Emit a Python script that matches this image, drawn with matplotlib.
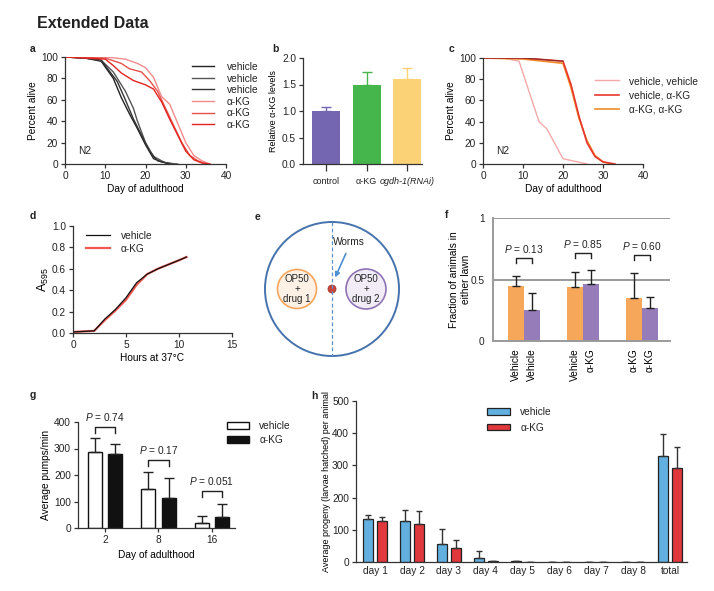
'''
Extended Data figure: lifespan, alpha-KG levels, bacterial growth,
food choice, pumping and brood size panels
'''

import numpy as np
import matplotlib
matplotlib.use('Agg')
import matplotlib.pyplot as plt
from matplotlib.patches import Patch, Circle

plt.rcParams['font.family'] = ['Liberation Sans', 'DejaVu Sans']
plt.rcParams['font.size'] = 7.3
plt.rcParams['mathtext.fontset'] = 'custom'
plt.rcParams['mathtext.rm'] = 'Liberation Sans'
plt.rcParams['mathtext.it'] = 'Liberation Sans:italic'
plt.rcParams['axes.linewidth'] = 0.9
plt.rcParams['xtick.major.width'] = 0.9
plt.rcParams['ytick.major.width'] = 0.9
plt.rcParams['xtick.major.size'] = 3
plt.rcParams['ytick.major.size'] = 3
plt.rcParams['text.color'] = '#222222'

###########################################
# data

# a: N2 lifespan, three vehicle and three alpha-KG trials
a_veh1_day = [0, 5, 9, 12, 14, 16, 18, 20, 22, 24, 27]
a_veh1_pct = [100, 99, 96, 80, 62, 47, 33, 18, 5, 2, 0]
a_veh2_day = [0, 5, 9, 12, 15, 17, 18, 20, 22, 25, 28]
a_veh2_pct = [100, 99, 97, 86, 68, 52, 40, 20, 7, 1, 0]
a_veh3_day = [0, 5, 9, 13, 15, 17, 19, 21, 23, 26]
a_veh3_pct = [100, 99, 97, 77, 60, 42, 27, 12, 3, 0]
a_akg1_day = [0, 10, 15, 18, 20, 22, 24, 26, 28, 30, 32, 34, 36]
a_akg1_pct = [100, 100, 98, 94, 90, 81, 63, 56, 38, 20, 8, 3, 0]
a_akg2_day = [0, 10, 14, 16, 19, 21, 23, 25, 27, 29, 31, 33, 35]
a_akg2_pct = [100, 99, 94, 89, 86, 78, 68, 52, 36, 20, 8, 3, 0]
a_akg3_day = [0, 10, 12, 14, 17, 20, 22, 24, 26, 28, 30, 32, 34, 36]
a_akg3_pct = [100, 98, 92, 85, 78, 74, 70, 58, 42, 27, 12, 4, 1, 0]

# b: relative alpha-KG levels
b_groups = ['control', 'α-KG', 'ogdh-1(RNAi)']
b_mean = [1.0, 1.5, 1.6]
b_err = [0.07, 0.23, 0.22]

# c: lifespan, pre-treatment / treatment
c_vv_day = [0, 5, 9, 14, 16, 20, 26]
c_vv_pct = [100, 100, 97, 40, 33, 5, 0]
c_va_day = [0, 10, 20, 22, 24, 26, 28, 30, 33]
c_va_pct = [100, 100, 97, 75, 45, 20, 7, 2, 0]
c_aa_day = [0, 10, 20, 22, 24, 26, 28, 30, 32]
c_aa_pct = [100, 99, 95, 72, 43, 22, 8, 2, 0]

# d: OP50 growth
d_hours = [0, 2, 3, 4, 5, 6, 7, 8, 9, 10, 10.7]
d_veh = [0.01, 0.02, 0.13, 0.22, 0.33, 0.47, 0.55, 0.60, 0.64, 0.68, 0.71]
d_akg = [0.01, 0.02, 0.12, 0.21, 0.31, 0.45, 0.55, 0.60, 0.64, 0.68, 0.71]

# f: food choice (drug 1 lawn vs drug 2 lawn)
f_drug1_labels = ['Vehicle', 'Vehicle', 'α-KG']
f_drug2_labels = ['Vehicle', 'α-KG', 'α-KG']
f_drug1 = [0.45, 0.44, 0.35]
f_drug1_err = [0.08, 0.12, 0.20]
f_drug2 = [0.25, 0.46, 0.27]
f_drug2_err = [0.14, 0.12, 0.09]
f_pvals = ['0.13', '0.85', '0.60']

# g: pumping
g_days = ['2', '8', '16']
g_veh = [285, 148, 17]
g_veh_err = [53, 64, 27]
g_akg = [278, 115, 43]
g_akg_err = [40, 72, 48]
g_pvals = ['0.74', '0.17', '0.051']

# h: brood size
h_days = ['day 1', 'day 2', 'day 3', 'day 4', 'day 5', 'day 6', 'day 7', 'day 8', 'total']
h_veh = [135, 127, 55, 13, 2, 0, 0, 0, 328]
h_veh_err = [12, 34, 47, 21, 2, 0, 0, 0, 70]
h_akg = [127, 119, 45, 3, 0.5, 0.5, 0, 0, 292]
h_akg_err = [14, 40, 23, 1, 0.5, 0.5, 0, 0, 64]

###########################################
# layout helpers (pixel boxes)

W, H = 714, 591
fig = plt.figure(figsize=(W/100, H/100), dpi=100)


def pxAxes(l, t, r, b):
  '''axes from a pixel box'''
  return fig.add_axes([l/W, 1-b/H, (r-l)/W, (b-t)/H])


def prism(ax):
  '''open axes style'''
  ax.spines['top'].set_visible(False)
  ax.spines['right'].set_visible(False)
  for s in ['left', 'bottom']:
    ax.spines[s].set_color('#333333')
  ax.tick_params(direction='out', colors='#333333', labelcolor='#222222', pad=2)


def figText(x, y, s, **kw):
  fig.text(x/W, 1-y/H, s, **kw)


def figLegend(ax, handles, labels, x, y, **kw):
  leg = ax.legend(handles, labels, loc='upper left', bbox_to_anchor=(x/W, 1-y/H),
                  bbox_transform=fig.transFigure, frameon=False, borderpad=0,
                  borderaxespad=0, **kw)
  return leg


def bracket(ax, x0, x1, y, drop, label, dy):
  ax.plot([x0, x0, x1, x1], [y-drop, y, y, y-drop], color='#222222', lw=1)
  ax.text((x0+x1)/2, y+dy, '$P$ = '+label, ha='center', va='center')


figText(37, 24, 'Extended Data', fontsize=11.5, fontweight='bold', va='center')
for lab, x, y in [('a', 30, 49), ('b', 272, 49), ('c', 449, 49), ('d', 30, 216),
                  ('e', 255, 217), ('f', 445, 215), ('g', 30, 395), ('h', 311, 396)]:
  figText(x, y, lab, fontsize=7.5, fontweight='bold', va='center')

###########################################
# a

ax = pxAxes(65, 57, 226, 164)
prism(ax)
aBlack = ['#222222', '#555555', '#333333']
aRed = ['#f28c8c', '#e8504a', '#e3241f']
lines = []
for d, p, c in zip([a_veh1_day, a_veh2_day, a_veh3_day], [a_veh1_pct, a_veh2_pct, a_veh3_pct], aBlack):
  lines += ax.plot(d, p, color=c, lw=1)
for d, p, c in zip([a_akg1_day, a_akg2_day, a_akg3_day], [a_akg1_pct, a_akg2_pct, a_akg3_pct], aRed):
  lines += ax.plot(d, p, color=c, lw=1)
ax.set_xlim(0, 40)
ax.set_ylim(0, 100)
ax.set_xticks([0, 10, 20, 30, 40])
ax.set_yticks([0, 20, 40, 60, 80, 100])
ax.set_xlabel('Day of adulthood', labelpad=2)
ax.set_ylabel('Percent alive', labelpad=2)
ax.text(3.3, 12, 'N2', va='center')
figLegend(ax, lines, ['vehicle']*3+['α-KG']*3, 192, 62,
          handlelength=2.2, handletextpad=1.2, labelspacing=0.15)

###########################################
# b

ax = pxAxes(303, 58, 422, 164)
prism(ax)
bCols = ['#7566b1', '#45b64b', '#fbd276']
xb = np.arange(len(b_groups))
ax.bar(xb, b_mean, width=0.69, color=bCols)
for i in range(len(xb)):
  ax.errorbar(xb[i], b_mean[i], yerr=[[0], [b_err[i]]], color=bCols[i], capsize=3.5, lw=1, capthick=1)
ax.set_xlim(-0.57, 2.37)
ax.set_ylim(0, 2.0)
ax.set_yticks([0, 0.5, 1.0, 1.5, 2.0])
ax.set_yticklabels(['0.0', '0.5', '1.0', '1.5', '2.0'])
ax.set_xticks(xb)
ax.set_xticklabels(b_groups, fontsize=6.5)
ax.get_xticklabels()[2].set_style('italic')
ax.tick_params(axis='x', length=5, pad=4)
ax.set_ylabel('Relative α-KG levels', labelpad=3, fontsize=6.5)

###########################################
# c

ax = pxAxes(483, 58, 643, 164)
prism(ax)
l1, = ax.plot(c_vv_day, c_vv_pct, color='#f4a9a9', lw=1)
l3, = ax.plot(c_aa_day, c_aa_pct, color='#f08c2a', lw=1.2)
l2, = ax.plot(c_va_day, c_va_pct, color='#e8382e', lw=1.2)
ax.plot(c_va_day[:3], c_va_pct[:3], color='#8a2a2a', lw=0.8)
ax.set_xlim(0, 40)
ax.set_ylim(0, 100)
ax.set_xticks([0, 10, 20, 30, 40])
ax.set_yticks([0, 20, 40, 60, 80, 100])
ax.set_xlabel('Day of adulthood', labelpad=2)
ax.set_ylabel('Percent alive', labelpad=2)
ax.text(3.3, 12, 'N2', va='center')
figLegend(ax, [l1, l2, l3], ['vehicle, vehicle', 'vehicle, α-KG', 'α-KG, α-KG'], 595, 76,
          handlelength=2.4, handletextpad=1.0, labelspacing=0.4)

###########################################
# d

ax = pxAxes(73, 226, 232, 333)
prism(ax)
lr, = ax.plot(d_hours, d_akg, color='#f0574f', lw=1.6)
lk, = ax.plot(d_hours, d_veh, color='#111111', lw=0.9)
ax.set_xlim(0, 15)
ax.set_ylim(0, 1.0)
ax.set_xticks([0, 5, 10, 15])
ax.set_yticks([0, 0.2, 0.4, 0.6, 0.8, 1.0])
ax.set_yticklabels(['0.0', '0.2', '0.4', '0.6', '0.8', '1.0'])
ax.set_xlabel('Hours at 37°C', labelpad=2)
ax.set_ylabel('A$_{595}$', labelpad=1, fontsize=9)
figLegend(ax, [lk, lr], ['vehicle', 'α-KG'], 86, 231,
          handlelength=2.4, handletextpad=1.0, labelspacing=0.25)

###########################################
# e: schematic of the food choice plate

ax = pxAxes(255, 218, 410, 360)
ax.set_xlim(255, 410)
ax.set_ylim(360, 218)
ax.axis('off')
plate = (332, 289, 67)
ax.add_patch(Circle(plate[:2], plate[2], fill=False, ec='#4673ad', lw=1.4))
ax.plot([plate[0], plate[0]], [plate[1]-plate[2], plate[1]+plate[2]], color='#5f92cc',
        lw=0.9, dashes=(3, 2))
ax.add_patch(Circle((297, 289), 19.5, fc='#fdf1e6', ec='#f5a65c', lw=1.2))
ax.add_patch(Circle((366, 289), 20, fc='#f1ecf6', ec='#8e73b5', lw=1.2))
ax.add_patch(Circle((332, 289), 4, fc='#c9453b', ec='#a33a30', lw=0.6))
ax.text(297, 289, 'OP50\n+\ndrug 1', ha='center', va='center', fontsize=7, linespacing=1.0)
ax.text(366, 289, 'OP50\n+\ndrug 2', ha='center', va='center', fontsize=7, linespacing=1.0)
ax.text(349, 242, 'Worms', ha='center', va='center', fontsize=7.3)
ax.annotate('', xy=(334, 280), xytext=(347, 251),
            arrowprops=dict(arrowstyle='-|>', color='#4d8fd1', lw=1.2, mutation_scale=7))

###########################################
# f

ax = pxAxes(493, 218, 670, 341)
for s in ['top', 'right']:
  ax.spines[s].set_visible(False)
for s in ['left', 'bottom']:
  ax.spines[s].set_color('#9a9a9a')
  ax.spines[s].set_linewidth(1.4)
ax.axhline(1.0, color='#9a9a9a', lw=1.4)
ax.axhline(0.5, color='#9a9a9a', lw=1.4)
xf = np.arange(3)
off = 0.135
bw = 0.27
ax.bar(xf-off, f_drug1, width=bw, color='#f7a75a')
ax.bar(xf+off, f_drug2, width=bw, color='#977cba')
ax.errorbar(xf-off, f_drug1, yerr=[np.zeros(3), f_drug1_err], fmt='none', ecolor='#222222',
            capsize=3, lw=1, capthick=1)
ax.errorbar(xf+off, f_drug2, yerr=[np.zeros(3), f_drug2_err], fmt='none', ecolor='#222222',
            capsize=3, lw=1, capthick=1)
fBr = [0.675, 0.715, 0.70]
for i in range(3):
  bracket(ax, xf[i]-off, xf[i]+off, fBr[i], 0.04, f_pvals[i], 0.075)
ax.set_xlim(-0.525, 2.475)
ax.set_ylim(0, 1.0)
ax.set_yticks([0, 0.5, 1.0])
ax.set_yticklabels(['0', '0.5', '1'])
ax.set_xticks(np.concatenate([xf-off, xf+off]))
ax.set_xticklabels(f_drug1_labels+f_drug2_labels, rotation=90)
ax.tick_params(axis='x', length=0, pad=5)
ax.tick_params(axis='y', length=0, pad=6, labelcolor='#222222')
ax.set_ylabel('Fraction of animals in\neither lawn', labelpad=0)

###########################################
# g

ax = pxAxes(78, 422, 235, 528)
prism(ax)
xg = np.arange(3)
goff = 0.19
gw = 0.26
ax.bar(xg-goff, g_veh, width=gw, color='white', edgecolor='#111111', lw=1)
ax.bar(xg+goff, g_akg, width=gw, color='#111111', edgecolor='#111111', lw=1)
ax.errorbar(xg-goff, g_veh, yerr=[np.zeros(3), g_veh_err], fmt='none', ecolor='#222222',
            capsize=3.5, lw=1, capthick=1)
ax.errorbar(xg+goff, g_akg, yerr=[np.zeros(3), g_akg_err], fmt='none', ecolor='#222222',
            capsize=3.5, lw=1, capthick=1)
gBr = [381, 257, 140]
for i in range(3):
  bracket(ax, xg[i]-goff, xg[i]+goff, gBr[i], 22, g_pvals[i], 37)
ax.set_xlim(-0.5, 2.43)
ax.set_ylim(0, 400)
ax.set_yticks([0, 100, 200, 300, 400])
ax.set_xticks(xg)
ax.set_xticklabels(g_days)
ax.set_xlabel('Day of adulthood', labelpad=4)
ax.set_ylabel('Average pumps/min', labelpad=2)
gh = [Patch(fc='white', ec='#111111', lw=1), Patch(fc='#111111', ec='#111111', lw=1)]
figLegend(ax, gh, ['vehicle', 'α-KG'], 227, 421, handlelength=2.2, handleheight=0.6,
          handletextpad=1.0, labelspacing=0.4)

###########################################
# h

ax = pxAxes(356, 401, 687, 562)
prism(ax)
xh = np.arange(len(h_days))
hoff = 0.19
hw = 0.27
ax.bar(xh-hoff, h_veh, width=hw, color='#62b0e0', edgecolor='#222222', lw=0.9)
ax.bar(xh+hoff, h_akg, width=hw, color='#e0383d', edgecolor='#222222', lw=0.9)
ax.errorbar(xh-hoff, h_veh, yerr=[np.zeros(len(xh)), h_veh_err], fmt='none', ecolor='#333333',
            capsize=2.5, lw=1, capthick=1)
ax.errorbar(xh+hoff, h_akg, yerr=[np.zeros(len(xh)), h_akg_err], fmt='none', ecolor='#333333',
            capsize=2.5, lw=1, capthick=1)
ax.set_xlim(-0.52, 8.46)
ax.set_ylim(0, 500)
ax.set_yticks([0, 100, 200, 300, 400, 500])
ax.set_xticks(xh)
ax.set_xticklabels(h_days)
ax.tick_params(axis='x', length=0, pad=3)
ax.set_ylabel('Average progeny (larvae hatched) per animal', labelpad=1, fontsize=6.5)
hh = [Patch(fc='#62b0e0', ec='#222222', lw=0.9), Patch(fc='#e0383d', ec='#222222', lw=0.9)]
figLegend(ax, hh, ['vehicle', 'α-KG'], 487, 407, handlelength=2.3, handleheight=0.6,
          handletextpad=1.0, labelspacing=0.55)

fig.savefig('out.png', dpi=100)
